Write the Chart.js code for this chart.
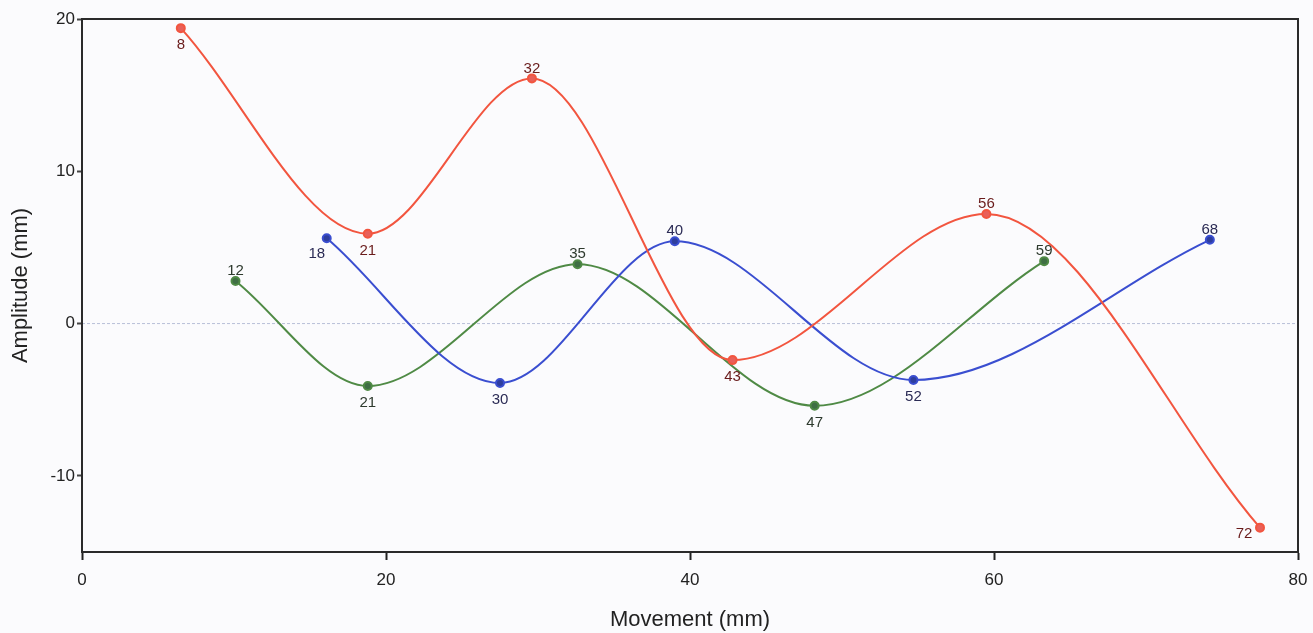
<!DOCTYPE html>
<html>
<head>
<meta charset="utf-8">
<script src="https://cdn.jsdelivr.net/npm/chart.js@4.4.0/dist/chart.umd.min.js"></script>
<style>
  html, body { margin: 0; padding: 0; background: #fbfbfd; }
  #wrap { width: 1313px; height: 633px; position: relative; }
</style>
</head>
<body>
<div id="wrap"><canvas id="chart"></canvas></div>
<script>
// data
const redX = [6.5, 18.8, 29.6, 42.8, 59.5, 77.5];
const redY = [19.4, 5.9, 16.1, -2.4, 7.2, -13.4];
const redLabels = ['8', '21', '32', '43', '56', '72'];

const blueX = [16.1, 27.5, 39.0, 54.7, 74.2];
const blueY = [5.6, -3.9, 5.4, -3.7, 5.5];
const blueLabels = ['18', '30', '40', '52', '68'];

const greenX = [10.1, 18.8, 32.6, 48.2, 63.3];
const greenY = [2.8, -4.1, 3.9, -5.4, 4.1];
const greenLabels = ['12', '21', '35', '47', '59'];

const xTicks = [0, 20, 40, 60, 80];
const yTicks = [-10, 0, 10, 20];

const toPoints = (xs, ys) => xs.map((x, i) => ({ x: x, y: ys[i] }));

// where each point label sits relative to its point
const labelSpots = {
  red: ['b', 'b', 'a', 'b', 'a', 'l'],
  blue: ['bl', 'b', 'a', 'b', 'a'],
  green: ['a', 'b', 'a', 'b', 'a'],
};

const FONT = '"Liberation Sans", Arial, Helvetica, sans-serif';

const pointLabels = {
  id: 'pointLabels',
  afterDatasetsDraw(chart) {
    const ctx = chart.ctx;
    ctx.save();
    ctx.font = '15px ' + FONT;
    ctx.textAlign = 'center';
    ctx.textBaseline = 'middle';
    chart.data.datasets.forEach((ds, di) => {
      const meta = chart.getDatasetMeta(di);
      meta.data.forEach((pt, i) => {
        const spot = ds.spots[i];
        let dx = 0, dy = 0;
        if (spot === 'a') dy = -10;
        if (spot === 'b') dy = 17;
        if (spot === 'bl') { dx = -10; dy = 16; }
        if (spot === 'l') { dx = -16; dy = 6; }
        ctx.fillStyle = ds.labelColor;
        ctx.fillText(ds.names[i], pt.x + dx, pt.y + dy);
      });
    });
    ctx.restore();
  }
};

const frame = {
  id: 'frame',
  beforeDatasetsDraw(chart) {
    const ctx = chart.ctx;
    const a = chart.chartArea;
    const y0 = chart.scales.y.getPixelForValue(0);
    ctx.save();
    ctx.strokeStyle = '#b8bfd8';
    ctx.lineWidth = 1;
    ctx.setLineDash([3, 2]);
    ctx.beginPath();
    ctx.moveTo(a.left, y0);
    ctx.lineTo(a.right, y0);
    ctx.stroke();
    ctx.setLineDash([]);
    ctx.strokeStyle = '#2a2a2a';
    ctx.lineWidth = 2;
    ctx.strokeRect(a.left, a.top, a.right - a.left, a.bottom - a.top);
    ctx.restore();
  }
};

const ctx = document.getElementById('chart').getContext('2d');
new Chart(ctx, {
  type: 'line',
  data: {
    datasets: [
      {
        data: toPoints(redX, redY),
        names: redLabels,
        spots: labelSpots.red,
        labelColor: '#6a1c1c',
        borderColor: '#f2553f',
        backgroundColor: '#e8605a',
        borderWidth: 2,
        pointRadius: 4,
        cubicInterpolationMode: 'monotone',
      },
      {
        data: toPoints(blueX, blueY),
        names: blueLabels,
        spots: labelSpots.blue,
        labelColor: '#2b2b55',
        borderColor: '#3a4ed0',
        backgroundColor: '#2e3e9e',
        borderWidth: 2,
        pointRadius: 4,
        cubicInterpolationMode: 'monotone',
      },
      {
        data: toPoints(greenX, greenY),
        names: greenLabels,
        spots: labelSpots.green,
        labelColor: '#2e3a2e',
        borderColor: '#4f8a45',
        backgroundColor: '#3f6e44',
        borderWidth: 2,
        pointRadius: 4,
        cubicInterpolationMode: 'monotone',
      },
    ],
  },
  options: {
    responsive: true,
    maintainAspectRatio: false,
    animation: false,
    layout: { padding: { top: 19, right: 5, left: 4, bottom: 0 } },
    plugins: {
      legend: { display: false },
      tooltip: { enabled: false },
    },
    scales: {
      x: {
        type: 'linear',
        min: 0,
        max: 80,
        afterBuildTicks: (s) => { s.ticks = xTicks.map(v => ({ value: v })); },
        afterFit: (s) => { s.height = 81; s.paddingRight = 15; },
        grid: { drawOnChartArea: false, tickLength: 8, tickColor: '#222', tickWidth: 2 },
        border: { color: '#2a2a2a', width: 2 },
        ticks: { color: '#222', font: { family: FONT, size: 17 }, padding: 10, maxRotation: 0 },
        title: { display: true, text: 'Movement (mm)', color: '#222', font: { family: FONT, size: 22 }, padding: { top: 0, bottom: 0 } },
      },
      y: {
        type: 'linear',
        min: -15,
        max: 20,
        afterBuildTicks: (s) => { s.ticks = yTicks.map(v => ({ value: v })); },
        afterFit: (s) => { s.width = 78; },
        grid: { drawOnChartArea: false, tickLength: 5, tickColor: '#444', tickWidth: 2 },
        border: { color: '#2a2a2a', width: 2 },
        ticks: { color: '#222', font: { family: FONT, size: 17 }, padding: 2 },
        title: { display: true, text: 'Amplitude (mm)', color: '#222', font: { family: FONT, size: 22 }, padding: { bottom: 2 } },
      },
    },
  },
  plugins: [frame, pointLabels],
});
</script>
</body>
</html>
